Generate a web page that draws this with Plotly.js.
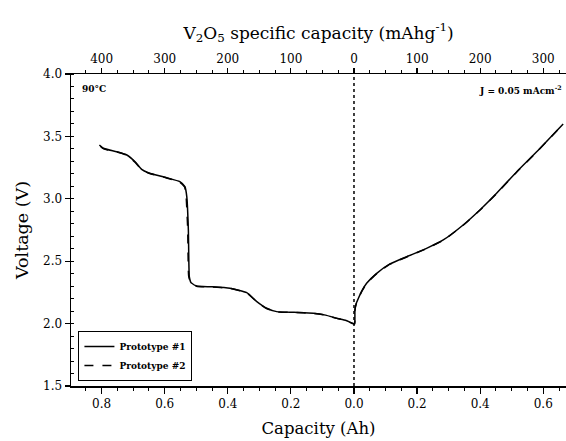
<!DOCTYPE html>
<html>
<head>
<meta charset="utf-8">
<script src="https://cdn.plot.ly/plotly-3.0.1.min.js"></script>
<style>html,body{margin:0;padding:0;background:#fff;}#chart{width:566px;height:441px;}</style>
</head>
<body>
<div id="chart"></div>
<script>
// Discharge branch (capacity in Ah, plotted to the left of 0)
const p1DisCap = [0.807, 0.795, 0.752, 0.720, 0.694, 0.673, 0.652, 0.594, 0.552, 0.536, 0.530, 0.525, 0.522, 0.518, 0.514, 0.499, 0.450, 0.393, 0.340, 0.308, 0.277, 0.245, 0.190, 0.129, 0.090, 0.055, 0.025, 0.002];
const p1DisV   = [3.431, 3.405, 3.377, 3.351, 3.297, 3.236, 3.209, 3.169, 3.137, 3.097, 3.017, 2.750, 2.376, 2.335, 2.323, 2.301, 2.295, 2.283, 2.248, 2.176, 2.123, 2.096, 2.090, 2.083, 2.068, 2.043, 2.025, 2.000];
// Charge branch (capacity in Ah, plotted to the right of 0)
const p1ChCap = [0.002, 0.003, 0.007, 0.014, 0.025, 0.040, 0.072, 0.114, 0.167, 0.230, 0.283, 0.346, 0.399, 0.452, 0.516, 0.579, 0.663];
const p1ChV   = [2.000, 2.109, 2.160, 2.203, 2.262, 2.323, 2.403, 2.478, 2.536, 2.603, 2.670, 2.790, 2.910, 3.044, 3.217, 3.377, 3.600];

const p2DisCap = [0.804, 0.793, 0.752, 0.720, 0.694, 0.673, 0.652, 0.594, 0.553, 0.537, 0.532, 0.527, 0.524, 0.519, 0.515, 0.499, 0.450, 0.393, 0.340, 0.308, 0.277, 0.245, 0.190, 0.129, 0.090, 0.055, 0.025, 0.002];
const p2DisV   = [3.422, 3.400, 3.375, 3.349, 3.293, 3.233, 3.207, 3.167, 3.135, 3.095, 3.015, 2.750, 2.380, 2.336, 2.321, 2.300, 2.294, 2.282, 2.246, 2.174, 2.121, 2.095, 2.089, 2.082, 2.067, 2.042, 2.024, 1.998];
const p2ChCap = [0.002, 0.003, 0.007, 0.014, 0.025, 0.040, 0.072, 0.114, 0.167, 0.230, 0.283, 0.346, 0.399, 0.452, 0.516, 0.579, 0.663];
const p2ChV   = [1.998, 2.107, 2.158, 2.201, 2.260, 2.321, 2.401, 2.476, 2.534, 2.601, 2.668, 2.788, 2.908, 3.042, 3.215, 3.375, 3.598];

const capTickVals = [-0.8, -0.6, -0.4, -0.2, 0, 0.2, 0.4, 0.6];
const capTickText = ['0.8', '0.6', '0.4', '0.2', '0.0', '0.2', '0.4', '0.6'];
const specTickVals = [-400, -300, -200, -100, 0, 100, 200, 300];
const specTickText = ['400', '300', '200', '100', '0', '100', '200', '300'];
const mAhPerAh = 500; // 0.2 Ah <-> 100 mAh/g

const capRange = [-0.897, 0.672];
const serif = 'DejaVu Serif';

function sx(dis, ch) { return dis.map(c => -c).concat(ch); }
function sy(dis, ch) { return dis.concat(ch); }

const traces = [
  {x: sx(p1DisCap, p1ChCap), y: sy(p1DisV, p1ChV), mode: 'lines', name: 'Prototype #1',
   line: {color: '#000', width: 1.5, shape: 'spline', smoothing: 0.5}, xaxis: 'x', yaxis: 'y'},
  {x: sx(p2DisCap, p2ChCap), y: sy(p2DisV, p2ChV), mode: 'lines', name: 'Prototype #2',
   line: {color: '#000', width: 1.5, dash: 'dash', shape: 'spline', smoothing: 0.5}, xaxis: 'x', yaxis: 'y'},
  {x: [capRange[0] * mAhPerAh], y: [1.5], mode: 'markers', marker: {opacity: 0}, showlegend: false,
   hoverinfo: 'skip', xaxis: 'x2', yaxis: 'y'}
];

const layout = {
  width: 566, height: 441,
  margin: {l: 71, r: 0, t: 74, b: 55},
  paper_bgcolor: '#fff', plot_bgcolor: '#fff',
  font: {family: serif, color: '#000', size: 12},
  showlegend: true,
  legend: {x: 0.015, y: 0.016, xanchor: 'left', yanchor: 'bottom',
    bgcolor: '#fff', bordercolor: '#000', borderwidth: 1,
    font: {family: serif, size: 9, color: '#000', weight: 'bold'},
    tracegroupgap: 0, itemwidth: 30},
  xaxis: {
    range: capRange, showgrid: false, zeroline: false,
    showline: true, linecolor: '#000', linewidth: 1.5, mirror: false,
    tickmode: 'array', tickvals: capTickVals, ticktext: capTickText,
    ticks: 'outside', ticklen: 6, tickwidth: 1.2, tickcolor: '#000',
    minor: {tickmode: 'linear', tick0: 0, dtick: 0.05, ticks: 'outside', ticklen: 3, tickwidth: 1, tickcolor: '#000', showgrid: false},
    tickfont: {family: serif, size: 12},
    title: {text: 'Capacity (Ah)', font: {family: serif, size: 16.5}, standoff: 12}
  },
  xaxis2: {
    overlaying: 'x', side: 'top', anchor: 'y',
    range: [capRange[0] * mAhPerAh, capRange[1] * mAhPerAh],
    showgrid: false, zeroline: false,
    showline: true, linecolor: '#000', linewidth: 1.5,
    tickmode: 'array', tickvals: specTickVals, ticktext: specTickText,
    ticks: 'outside', ticklen: 5, tickwidth: 1.2, tickcolor: '#000',
    minor: {tickmode: 'linear', tick0: 0, dtick: 25, ticks: 'outside', ticklen: 3, tickwidth: 1, tickcolor: '#000', showgrid: false},
    tickfont: {family: serif, size: 12},
    title: {text: 'V<sub>2</sub>O<sub>5</sub> specific capacity (mAhg<sup>-1</sup>)', font: {family: serif, size: 17}, standoff: 8}
  },
  yaxis: {
    range: [1.5, 4.0], showgrid: false, zeroline: false,
    showline: true, linecolor: '#000', linewidth: 1.5,
    tickmode: 'linear', tick0: 1.5, dtick: 0.5, tickformat: '.1f',
    ticks: 'outside', ticklen: 5, tickwidth: 1.2, tickcolor: '#000',
    minor: {tickmode: 'linear', tick0: 1.5, dtick: 0.1, ticks: 'inside', ticklen: 3, tickwidth: 1, tickcolor: '#000', showgrid: false},
    tickfont: {family: serif, size: 12},
    title: {text: 'Voltage (V)', font: {family: serif, size: 17.5}, standoff: 10}
  },
  shapes: [
    {type: 'line', xref: 'x', yref: 'paper', x0: 0, x1: 0, y0: 0, y1: 1,
     line: {color: '#000', width: 1.5, dash: 'dot'}}
  ],
  annotations: [
    {text: '90°C', xref: 'paper', yref: 'paper', x: 0.018, y: 0.975, xanchor: 'left', yanchor: 'top',
     showarrow: false, font: {family: serif, size: 9, color: '#000', weight: 'bold'}},
    {text: 'J = 0.05 mAcm<sup>-2</sup>', xref: 'paper', yref: 'paper', x: 0.995, y: 0.975, xanchor: 'right', yanchor: 'top',
     showarrow: false, font: {family: serif, size: 9, color: '#000', weight: 'bold'}}
  ]
};

Plotly.newPlot('chart', traces, layout, {displayModeBar: false, staticPlot: true});
</script>
</body>
</html>
